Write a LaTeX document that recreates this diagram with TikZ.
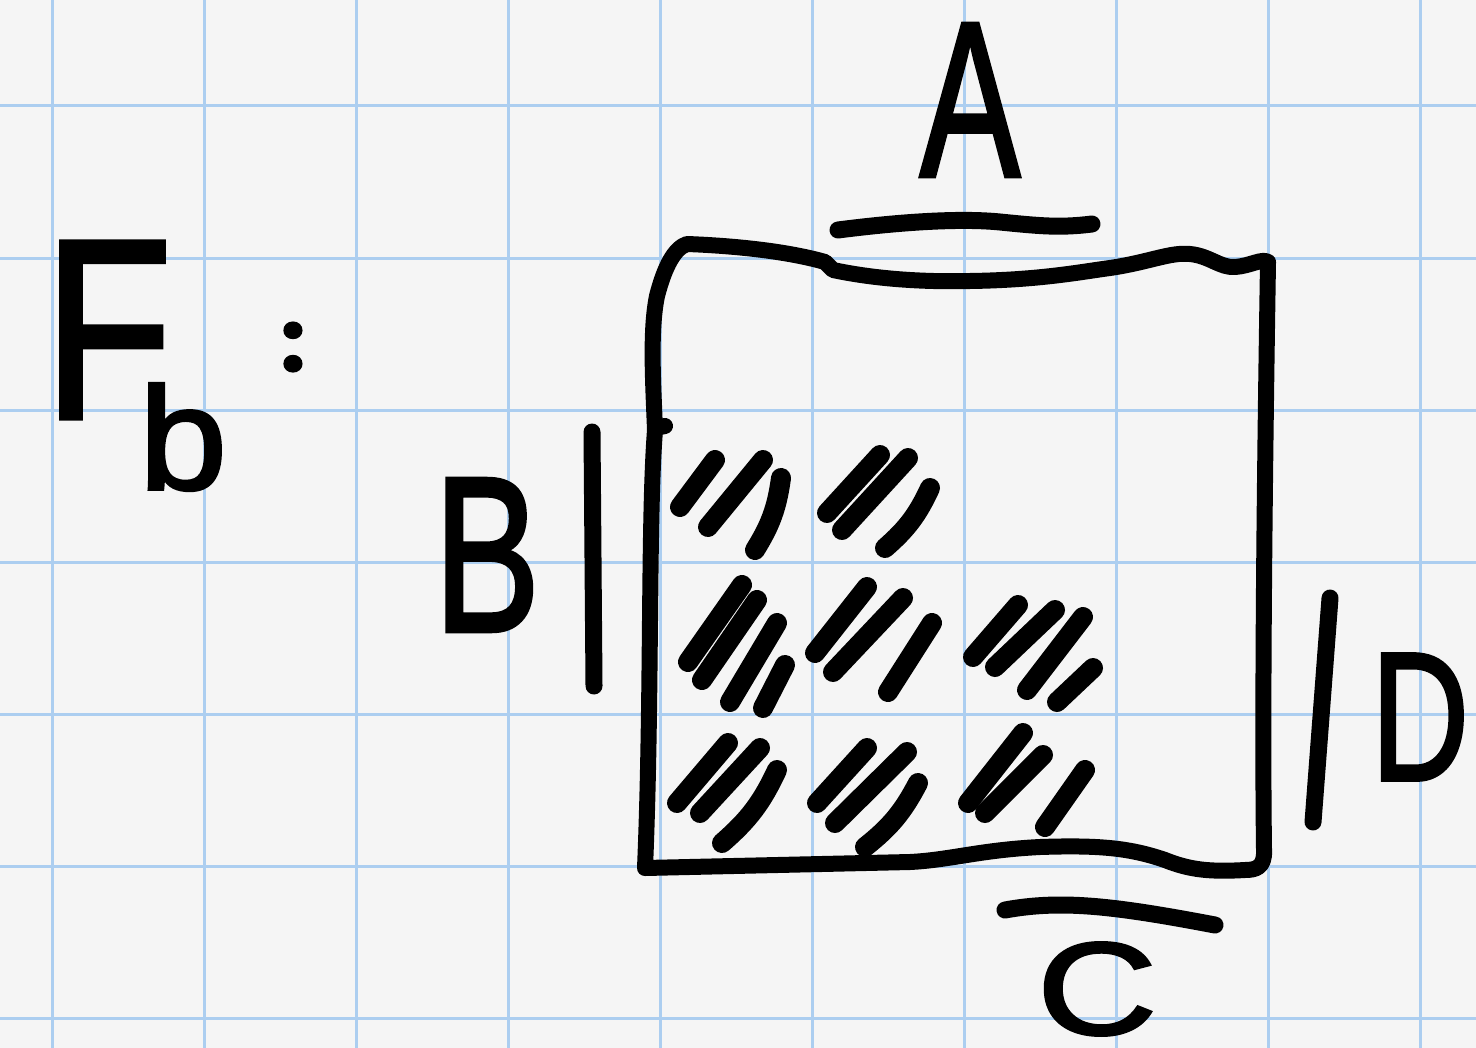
\documentclass[tikz,border=0pt]{standalone}
\usepackage{fontspec}
\usepackage{graphicx}
\newfontface\handfont{Liberation Sans}[FakeBold=2]
\newfontfamily\dotfont{Poppins}[FakeBold=3]
\definecolor{paper}{RGB}{245,245,245}
\definecolor{gridblue}{RGB}{172,206,240}
\tikzset{
  ink/.style={draw=black, line width=8.5pt, line cap=round, line join=round},
  hatch/.style={draw=black, line width=10pt, line cap=round},
  gridline/.style={draw=gridblue, line width=1.5pt},
  lbl/.style={inner sep=0pt, outer sep=0pt, anchor=center, text=black, font=\handfont}
}
\begin{document}
\begin{tikzpicture}[x=0.5pt, y=-0.5pt]
\useasboundingbox (0,0) rectangle (1476,1048);
\fill[paper] (0,0) rectangle (1476,1048);
% grid
\foreach \gx in {52,204,356,508,660,812,964,1116,1268,1420}
  \draw[gridline] (\gx,0) -- (\gx,1048);
\foreach \gy in {106,258,410,562,714,866,1018}
  \draw[gridline] (0,\gy) -- (1476,\gy);

% labels
\node[lbl] (F) at (108,330) {\resizebox{64pt}{88pt}{F}};
\node[lbl] (b) at (183,437) {\resizebox{44pt}{53pt}{b}};
\node[lbl, font=\dotfont\bfseries] (colon) at (293,347) {\resizebox{!}{24pt}{:}};
\node[lbl] (A) at (970,100) {\resizebox{50pt}{76pt}{A}};
\node[lbl] (B) at (487,555) {\resizebox{53pt}{76pt}{B}};
\node[lbl] (D) at (1420,717) {\resizebox{49pt}{63pt}{D}};
\node[lbl] (C) at (1097,989) {\resizebox{60pt}{46pt}{C}};

% bars
\draw[ink] (838,230) .. controls (900,222) and (960,218) .. (1000,222)
  .. controls (1040,226) and (1060,228) .. (1092,224);
\draw[ink] (1005,910) .. controls (1060,900) and (1110,905) .. (1215,925);
\draw[ink] (592,432) -- (594,686);
\draw[ink] (1330,598) -- (1313,822);

% box
\draw[ink, line width=8pt]
  (645,868) .. controls (652,700) and (648,520) .. (655,430)
  .. controls (653,380) and (650,330) .. (657,296)
  .. controls (665,265) and (675,248) .. (687,244)
  .. controls (740,246) and (790,252) .. (825,262)
  -- (833,270)
  .. controls (880,280) and (930,282) .. (970,281)
  .. controls (1040,280) and (1080,272) .. (1110,268)
  .. controls (1150,262) and (1170,252) .. (1190,254)
  .. controls (1210,256) and (1220,268) .. (1235,267)
  .. controls (1250,266) and (1262,258) .. (1268,262)
  .. controls (1265,450) and (1262,700) .. (1264,850)
  .. controls (1265,868) and (1255,870) .. (1245,870)
  .. controls (1210,872) and (1190,870) .. (1165,860)
  .. controls (1130,848) and (1100,845) .. (1040,847)
  .. controls (980,850) and (950,860) .. (910,862)
  -- (645,868);
\draw[ink, line width=8pt] (655,428) -- (665,426);

% hatching, row 1
\draw[hatch] (680,507) -- (715,460);
\draw[hatch] (708,527) -- (763,460);
\draw[hatch] (781,478) to[bend left=12] (755,550);
\draw[hatch] (827,513) -- (880,455);
\draw[hatch] (842,530) -- (908,458);
\draw[hatch] (930,488) to[bend left=12] (885,548);
% row 2
\draw[hatch] (688,662) -- (742,585);
\draw[hatch] (702,680) -- (757,600);
\draw[hatch] (730,702) -- (777,623);
\draw[hatch] (763,708) -- (785,665);
\draw[hatch] (815,653) -- (867,587);
\draw[hatch] (833,672) -- (903,598);
\draw[hatch] (888,692) -- (932,623);
\draw[hatch] (973,657) -- (1018,605);
\draw[hatch] (995,667) -- (1055,610);
\draw[hatch] (1027,690) -- (1083,617);
\draw[hatch] (1057,702) -- (1093,668);
% row 3
\draw[hatch] (677,803) -- (728,743);
\draw[hatch] (700,813) -- (760,748);
\draw[hatch] (722,843) to[bend right=12] (777,770);
\draw[hatch] (817,803) -- (867,748);
\draw[hatch] (835,823) -- (907,752);
\draw[hatch] (865,847) to[bend right=12] (918,783);
\draw[hatch] (968,803) -- (1023,733);
\draw[hatch] (985,813) -- (1043,755);
\draw[hatch] (1045,827) -- (1085,770);
\end{tikzpicture}
\end{document}
